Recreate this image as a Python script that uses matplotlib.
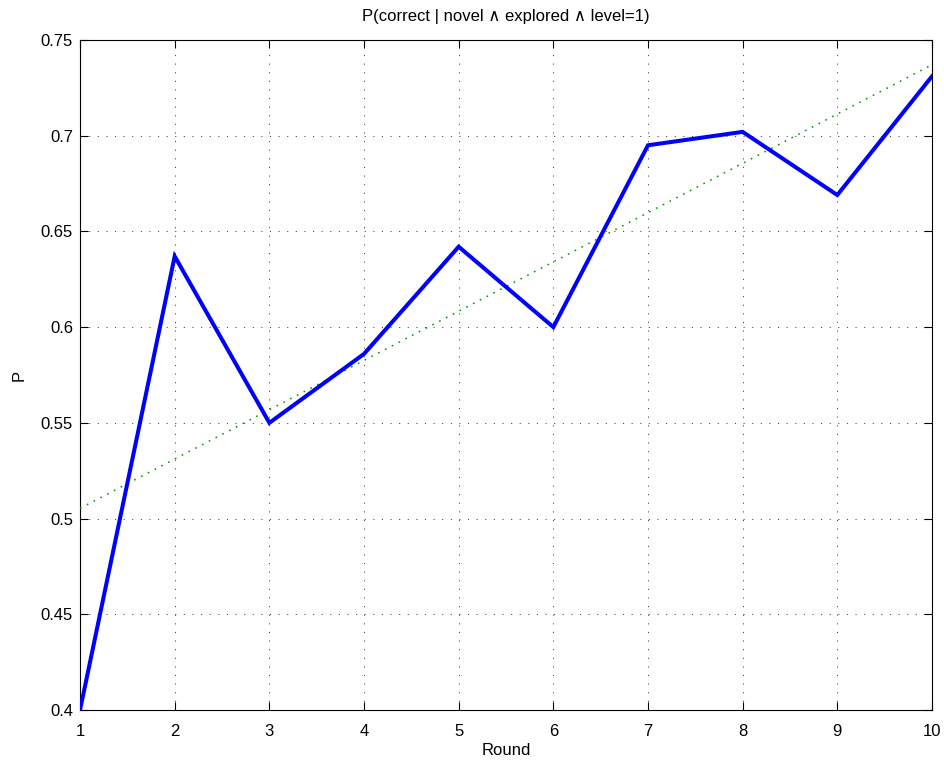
import numpy as np
import matplotlib
matplotlib.use("Agg")
import matplotlib.pyplot as plt

plt.rcParams['font.family'] = ['Liberation Sans', 'DejaVu Sans']
plt.rcParams['lines.scale_dashes'] = False

rounds = [1, 2, 3, 4, 5, 6, 7, 8, 9, 10]
p_values = [0.400, 0.637, 0.550, 0.586, 0.642, 0.600, 0.695, 0.702, 0.669, 0.731]
x_ticks = [1, 2, 3, 4, 5, 6, 7, 8, 9, 10]
y_ticks = [0.4, 0.45, 0.5, 0.55, 0.6, 0.65, 0.7, 0.75]
y_tick_labels = ['0.4', '0.45', '0.5', '0.55', '0.6', '0.65', '0.7', '0.75']

fig = plt.figure(figsize=(9.45, 7.63), dpi=100)
ax = fig.add_axes([0.0847, 0.0695, 0.9015, 0.8781])

x = np.array(rounds, dtype=float)
y = np.array(p_values)
coef = np.polyfit(x, y, 1)
ax.plot(x, np.polyval(coef, x), color=(0, 0.6, 0), lw=1.1, linestyle=(0, (1.2, 4.3)), zorder=3)
ax.plot(x, y, color=(0, 0, 1), lw=2.9, zorder=4, solid_joinstyle='miter')

ax.set_xlim(1, 10)
ax.set_ylim(0.4, 0.75)
ax.set_xticks(x_ticks)
ax.set_yticks(y_ticks)
ax.set_yticklabels(y_tick_labels)
ax.tick_params(direction='in', length=6, width=0.8, top=True, right=True, labelsize=12, pad=5)
ax.tick_params(axis='x', pad=10)
ax.grid(True, color='#444444', linestyle=(0, (0.8, 5.4)), lw=0.7)
for s in ax.spines.values():
    s.set_linewidth(0.8)

ax.set_title('P(correct | novel \u2227 explored \u2227 level=1)', fontsize=12, pad=14)
ax.set_xlabel('Round', fontsize=12, labelpad=3)
ax.set_ylabel('P', fontsize=12, labelpad=10)

fig.savefig('out.png', dpi=100)
